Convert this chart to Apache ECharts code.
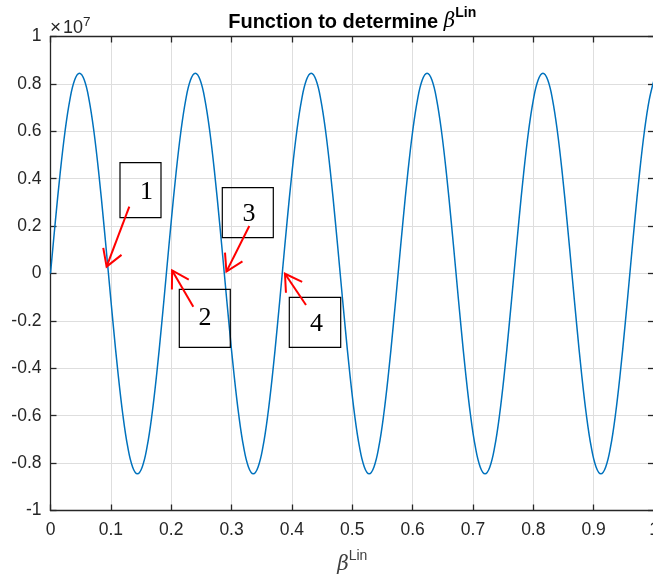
<!DOCTYPE html>
<html>
<head>
<meta charset="utf-8">
<script src="https://cdn.jsdelivr.net/npm/echarts@6/dist/echarts.min.js"></script>
<style>
  html, body { margin: 0; padding: 0; background: #ffffff; }
  #chart { width: 653px; height: 578px; }
</style>
</head>
<body>
<div id="chart"></div>
<script>
// Sampled curve: beta^Lin on x, function value (in units of 1e7) on y
const betaLin = [
  0.000, 0.008, 0.016, 0.024, 0.032, 0.040, 0.048, 0.056, 0.064, 0.072, 0.080, 0.088,
  0.096, 0.104, 0.112, 0.120, 0.128, 0.136, 0.144, 0.152, 0.160, 0.168, 0.176, 0.184,
  0.192, 0.200, 0.208, 0.216, 0.224, 0.232, 0.240, 0.248, 0.256, 0.264, 0.272, 0.280,
  0.288, 0.296, 0.304, 0.312, 0.320, 0.328, 0.336, 0.344, 0.352, 0.360, 0.368, 0.376,
  0.384, 0.392, 0.400, 0.408, 0.416, 0.424, 0.432, 0.440, 0.448, 0.456, 0.464, 0.472,
  0.480, 0.488, 0.496, 0.504, 0.512, 0.520, 0.528, 0.536, 0.544, 0.552, 0.560, 0.568,
  0.576, 0.584, 0.592, 0.600, 0.608, 0.616, 0.624, 0.632, 0.640, 0.648, 0.656, 0.664,
  0.672, 0.680, 0.688, 0.696, 0.704, 0.712, 0.720, 0.728, 0.736, 0.744, 0.752, 0.760,
  0.768, 0.776, 0.784, 0.792, 0.800, 0.808, 0.816, 0.824, 0.832, 0.840, 0.848, 0.856,
  0.864, 0.872, 0.880, 0.888, 0.896, 0.904, 0.912, 0.920, 0.928, 0.936, 0.944, 0.952,
  0.960, 0.968, 0.976, 0.984, 0.992, 1.000
];
const fValue = [
  0, 0.219, 0.423, 0.598, 0.732, 0.816, 0.845, 0.816, 0.732, 0.598, 0.423, 0.219,
  0, -0.219, -0.423, -0.598, -0.732, -0.816, -0.845, -0.816, -0.732, -0.598, -0.423, -0.219,
  0, 0.219, 0.423, 0.598, 0.732, 0.816, 0.845, 0.816, 0.732, 0.598, 0.423, 0.219,
  0, -0.219, -0.423, -0.598, -0.732, -0.816, -0.845, -0.816, -0.732, -0.598, -0.423, -0.219,
  0, 0.219, 0.423, 0.598, 0.732, 0.816, 0.845, 0.816, 0.732, 0.598, 0.423, 0.219,
  0, -0.219, -0.423, -0.598, -0.732, -0.816, -0.845, -0.816, -0.732, -0.598, -0.423, -0.219,
  0, 0.219, 0.423, 0.598, 0.732, 0.816, 0.845, 0.816, 0.732, 0.598, 0.423, 0.219,
  0, -0.219, -0.423, -0.598, -0.732, -0.816, -0.845, -0.816, -0.732, -0.598, -0.423, -0.219,
  0, 0.219, 0.423, 0.598, 0.732, 0.816, 0.845, 0.816, 0.732, 0.598, 0.423, 0.219,
  0, -0.219, -0.423, -0.598, -0.732, -0.816, -0.845, -0.816, -0.732, -0.598, -0.423, -0.219,
  0, 0.219, 0.423, 0.598, 0.732, 0.816
];

// Numbered call-outs and the roots they point at
const rootLabels = ['1', '2', '3', '4'];
const rootX = [0.093, 0.2015, 0.2915, 0.3885];
const rootY = [0.029, 0.013, 0.008, -0.001];

// Call-out layout (pixels): arrow tail, box rectangle, label centre
const calloutLayout = [
  { tail: [129.3, 206.7], box: [120, 162.7, 41, 55], text: [146.5, 192] },
  { tail: [193.3, 306.7], box: [179.3, 289.3, 51, 58], text: [205, 318.5] },
  { tail: [249.3, 226.0], box: [222.3, 187.7, 51, 50], text: [249, 214] },
  { tail: [306.0, 305.0], box: [289.3, 297.3, 51.4, 50], text: [316.5, 324] }
];

const xTicks = { min: 0, max: 1, interval: 0.1 };
const yTicks = { min: -1, max: 1, interval: 0.2 };

const axisColor = '#262626';
const gridColor = '#dedede';
const tickFont = 'Liberation Sans, Arial, sans-serif';

const chart = echarts.init(document.getElementById('chart'), null, { renderer: 'canvas' });

const grid = { left: 50.5, top: 36.5, width: 603.5, height: 474, containLabel: false, outerBoundsMode: 'none' };

function boxAxis(extra) {
  return Object.assign({
    type: 'value',
    axisLine: { show: true, onZero: false, lineStyle: { color: axisColor, width: 1.3 } },
    axisTick: { show: true, inside: true, length: 6, lineStyle: { color: axisColor, width: 1.3 } },
    splitLine: { show: false },
    axisLabel: { show: false }
  }, extra);
}

const option = {
  animation: false,
  backgroundColor: '#ffffff',
  grid: grid,
  xAxis: [
    {
      type: 'value',
      min: xTicks.min, max: xTicks.max, interval: xTicks.interval,
      position: 'bottom',
      axisLine: { show: true, onZero: false, lineStyle: { color: axisColor, width: 1.3 } },
      axisTick: { show: true, inside: true, length: 6, lineStyle: { color: axisColor, width: 1.3 } },
      splitLine: { show: true, lineStyle: { color: gridColor, width: 1 } },
      axisLabel: { color: axisColor, fontSize: 17.5, fontFamily: tickFont, margin: 11, hideOverlap: false }
    },
    boxAxis({ min: xTicks.min, max: xTicks.max, interval: xTicks.interval, position: 'top' })
  ],
  yAxis: [
    {
      type: 'value',
      min: yTicks.min, max: yTicks.max, interval: yTicks.interval,
      position: 'left',
      axisLine: { show: true, onZero: false, lineStyle: { color: axisColor, width: 1.3 } },
      axisTick: { show: true, inside: true, length: 6, lineStyle: { color: axisColor, width: 1.3 } },
      splitLine: { show: true, lineStyle: { color: gridColor, width: 1 } },
      axisLabel: { color: axisColor, fontSize: 17.5, fontFamily: tickFont, margin: 9 }
    },
    boxAxis({ min: yTicks.min, max: yTicks.max, interval: yTicks.interval, position: 'right' })
  ],
  series: [
    {
      type: 'line',
      xAxisIndex: 0,
      yAxisIndex: 0,
      data: betaLin.map((b, i) => [b, fValue[i]]),
      showSymbol: false,
      smooth: 0.4,
      lineStyle: { color: '#0072BD', width: 1.5 },
      clip: true
    }
  ]
};

chart.setOption(option);

// Title, exponent marker, x-axis name and call-outs
const plotCentreX = grid.left + grid.width / 2;
const graphics = [
  {
    type: 'text',
    x: plotCentreX, y: 19,
    style: {
      text: '{t|Function to determine }{b|β}{s|Lin}',
      align: 'center', verticalAlign: 'middle',
      rich: {
        t: { fontFamily: tickFont, fontWeight: 'bold', fontSize: 20, fill: '#000000', lineHeight: 26, verticalAlign: 'bottom' },
        b: { fontFamily: 'DejaVu Serif, serif', fontStyle: 'italic', fontSize: 20, fill: '#000000', lineHeight: 26, verticalAlign: 'bottom' },
        s: { fontFamily: tickFont, fontWeight: 'bold', fontSize: 14, fill: '#000000', lineHeight: 16, verticalAlign: 'top' }
      }
    }
  },
  {
    type: 'text',
    x: 50, y: 26,
    style: {
      text: '{m|×}{t|10}{s|7}',
      align: 'left', verticalAlign: 'middle',
      rich: {
        m: { fontFamily: tickFont, fontSize: 19, fill: axisColor, lineHeight: 22, verticalAlign: 'bottom' },
        t: { fontFamily: tickFont, fontSize: 18, fill: axisColor, lineHeight: 22, verticalAlign: 'bottom', padding: [0, 0, 0, 2] },
        s: { fontFamily: tickFont, fontSize: 13.5, fill: axisColor, lineHeight: 15, verticalAlign: 'top' }
      }
    }
  },
  {
    type: 'text',
    x: plotCentreX, y: 562,
    style: {
      text: '{b|β}{s|Lin}',
      align: 'center', verticalAlign: 'middle',
      rich: {
        b: { fontFamily: 'DejaVu Serif, serif', fontStyle: 'italic', fontSize: 20, fill: '#404040', lineHeight: 26, verticalAlign: 'bottom' },
        s: { fontFamily: tickFont, fontSize: 14, fill: '#404040', lineHeight: 16, verticalAlign: 'top' }
      }
    }
  }
];

function arrowHead(tip, tail, len, spread) {
  const ang = Math.atan2(tail[1] - tip[1], tail[0] - tip[0]);
  const a1 = ang + spread, a2 = ang - spread;
  return [
    [tip[0] + len * Math.cos(a1), tip[1] + len * Math.sin(a1)],
    tip,
    [tip[0] + len * Math.cos(a2), tip[1] + len * Math.sin(a2)]
  ];
}

rootLabels.forEach((label, i) => {
  const tip = chart.convertToPixel({ gridIndex: 0 }, [rootX[i], rootY[i]]);
  const lay = calloutLayout[i];
  graphics.push({
    type: 'rect',
    shape: { x: lay.box[0], y: lay.box[1], width: lay.box[2], height: lay.box[3] },
    style: { fill: 'none', stroke: '#000000', lineWidth: 1.2 },
    z: 10
  });
  graphics.push({
    type: 'text',
    x: lay.text[0], y: lay.text[1],
    style: { text: label, align: 'center', verticalAlign: 'middle',
      font: '26px "Liberation Serif", "Times New Roman", serif', fill: '#000000' },
    z: 10
  });
  graphics.push({
    type: 'polyline',
    shape: { points: [lay.tail, tip] },
    style: { stroke: '#ff0000', lineWidth: 2, fill: 'none' },
    z: 11
  });
  graphics.push({
    type: 'polyline',
    shape: { points: arrowHead(tip, lay.tail, 19, 0.54) },
    style: { stroke: '#ff0000', lineWidth: 2, fill: 'none' },
    z: 11
  });
});

chart.setOption({ graphic: graphics });
</script>
</body>
</html>
